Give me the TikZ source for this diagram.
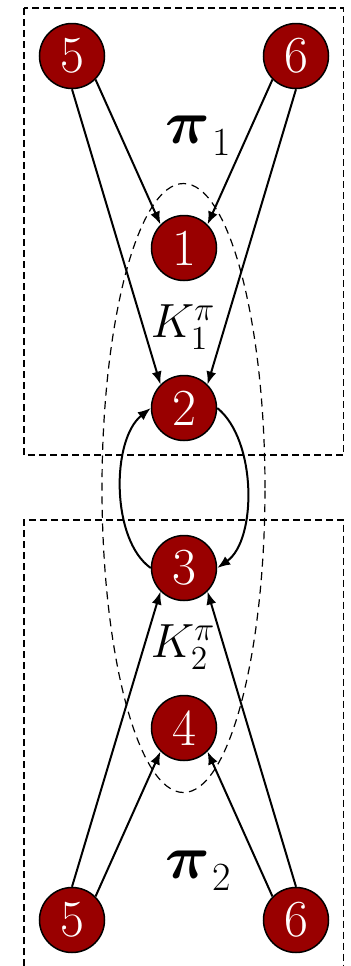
\documentclass[tikz,border=0pt]{standalone}
\usepackage{fix-cm}
\usepackage{fontspec}
\usetikzlibrary{arrows.meta}
\definecolor{nodered}{HTML}{990000}
\begin{document}
\begin{tikzpicture}[x=0.5pt,y=-0.5pt,
  vert/.style={circle,draw=black,line width=0.75pt,fill=nodered,minimum size=32.5pt,inner sep=0pt,
    text=white,font=\fontsize{26}{26}\selectfont},
  edge/.style={line width=1pt,-{Latex[length=6.5pt,width=5pt]}},
  box/.style={line width=0.75pt,dash pattern=on 3.5pt off 2pt},
  lbl/.style={inner sep=0pt}]
\useasboundingbox (0,0) rectangle (351,966);
% boxes
\draw[box] (24,8) rectangle (343.5,455);
\draw[box] (24,966) -- (24,520) -- (343.5,520) -- (343.5,966);
% ellipse
\draw[line width=0.6pt,dash pattern=on 4pt off 2.8pt] (183.5,488) ellipse [x radius=40.75pt,y radius=152.25pt];
% nodes
\node[vert] (a5) at (72,56) {5};
\node[vert] (a6) at (296,56) {6};
\node[vert] (n1) at (184,248) {1};
\node[vert] (n2) at (184,408) {2};
\node[vert] (n3) at (184,568) {3};
\node[vert] (n4) at (184,728) {4};
\node[vert] (b5) at (72,920) {5};
\node[vert] (b6) at (296,920) {6};
% labels
\node[lbl] (p1) at (198,136) {{\fontsize{31}{31}\selectfont\boldmath$\pi$}\kern1pt\raisebox{-6pt}{\fontsize{20}{20}\selectfont 1}};
\node[lbl] (p2) at (198,871) {{\fontsize{31}{31}\selectfont\boldmath$\pi$}\kern1pt\raisebox{-6pt}{\fontsize{20}{20}\selectfont 2}};
\node[lbl] (k1) at (183,327) {\fontsize{24}{24}\selectfont$K_1^\pi$};
\node[lbl] (k2) at (183,647) {\fontsize{24}{24}\selectfont$K_2^\pi$};
% edges
\draw[edge] (a5.south east) -- (n1.north west);
\draw[edge] (a6.south west) -- (n1.north east);
\draw[edge] (a5.south) -- (n2.north west);
\draw[edge] (a6.south) -- (n2.north east);
\draw[edge] (n2.east) .. controls (257,440) and (257,540) .. (n3.east);
\draw[edge] (n3.west) .. controls (111,540) and (111,440) .. (n2.west);
\draw[edge] (b5.north) -- (n3.south west);
\draw[edge] (b6.north) -- (n3.south east);
\draw[edge] (b5.north east) -- (n4.south west);
\draw[edge] (b6.north west) -- (n4.south east);
\end{tikzpicture}
\end{document}
